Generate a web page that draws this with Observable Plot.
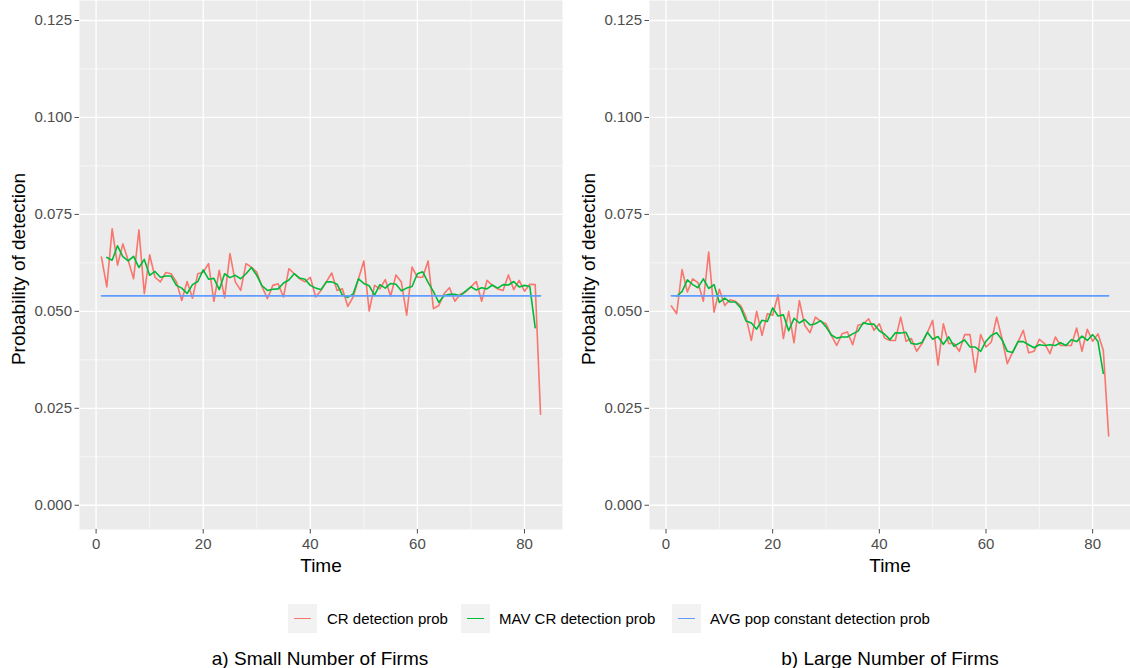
<!DOCTYPE html>
<html><head><meta charset="utf-8">
<script src="https://cdn.jsdelivr.net/npm/d3@7"></script>
<script src="https://cdn.jsdelivr.net/npm/@observablehq/plot@0.6"></script>
<style>
body{margin:0;background:#fff;font-family:"Liberation Sans",Arial,sans-serif;}
#wrap{position:relative;width:1130px;height:668px;overflow:hidden;background:#fff;}
.panel{position:absolute;top:0;}
.key{position:absolute;width:29px;height:29px;background:#F2F2F2;top:604px;}
.key i{position:absolute;left:6px;right:6px;top:13.5px;height:1.6px;}
.lt{position:absolute;font-size:15px;line-height:15px;top:611px;color:#000;white-space:nowrap;}
.cap{position:absolute;font-size:19px;line-height:19px;top:649px;white-space:nowrap;transform:translateX(-50%);color:#000;}
</style></head>
<body><div id="wrap"></div>
<script>
const time = [1,2,3,4,5,6,7,8,9,10,11,12,13,14,15,16,17,18,19,20,21,22,23,24,25,26,27,28,29,30,31,32,33,34,35,36,37,38,39,40,41,42,43,44,45,46,47,48,49,50,51,52,53,54,55,56,57,58,59,60,61,62,63,64,65,66,67,68,69,70,71,72,73,74,75,76,77,78,79,80,81,82,83];

const crSmall = [
.0640,.0563,.0713,.0619,.0674,.0631,.0584,.0710,.0546,.0646,
.0588,.0576,.0600,.0597,.0576,.0528,.0577,.0534,.0597,.0601,
.0623,.0526,.0606,.0535,.0649,.0576,.0554,.0623,.0614,.0601,
.0563,.0533,.0567,.0571,.0537,.0610,.0597,.0584,.0576,.0588,
.0537,.0554,.0576,.0599,.0554,.0558,.0513,.0537,.0584,.0630,
.0501,.0567,.0558,.0582,.0539,.0594,.0576,.0490,.0614,.0588,
.0588,.0630,.0507,.0515,.0546,.0561,.0526,.0544,.0550,.0563,
.0577,.0526,.0580,.0567,.0558,.0554,.0594,.0556,.0580,.0552,
.0570,.0569,.0235];

// moving average values, time 2..82
const mavSmall = [
.0639,.0632,.0669,.0641,.0630,.0642,.0613,.0634,.0593,
.0603,.0588,.0591,.0591,.0567,.0560,.0546,.0569,.0577,.0607,
.0583,.0585,.0556,.0597,.0587,.0593,.0584,.0597,.0613,.0593,
.0566,.0554,.0557,.0558,.0573,.0581,.0597,.0586,.0583,.0567,
.0560,.0556,.0576,.0576,.0570,.0542,.0536,.0545,.0584,.0572,
.0566,.0542,.0569,.0560,.0572,.0570,.0553,.0560,.0564,.0597,
.0602,.0575,.0551,.0523,.0541,.0544,.0544,.0540,.0552,.0563,
.0555,.0561,.0558,.0568,.0560,.0569,.0568,.0577,.0563,.0567,
.0564,.0458];

const crLarge = [
.0514,.0494,.0608,.0550,.0584,.0574,.0526,.0653,.0498,.0557,
.0515,.0530,.0526,.0515,.0485,.0425,.0500,.0438,.0494,.0490,
.0543,.0430,.0500,.0419,.0528,.0464,.0445,.0485,.0474,.0468,
.0438,.0412,.0442,.0447,.0414,.0464,.0468,.0481,.0451,.0468,
.0431,.0425,.0425,.0485,.0423,.0430,.0397,.0417,.0445,.0477,
.0361,.0468,.0417,.0417,.0397,.0440,.0440,.0343,.0440,.0408,
.0421,.0485,.0430,.0365,.0395,.0421,.0451,.0393,.0397,.0428,
.0417,.0391,.0434,.0412,.0412,.0412,.0457,.0397,.0454,.0423,
.0442,.0400,.0179];

const mavLarge = [
.0539,.0551,.0581,.0569,.0561,.0584,.0559,.0569,.0523,
.0534,.0524,.0524,.0509,.0475,.0470,.0454,.0477,.0474,.0509,
.0488,.0491,.0450,.0482,.0470,.0479,.0465,.0468,.0476,.0460,
.0439,.0431,.0434,.0434,.0442,.0449,.0471,.0467,.0467,.0450,
.0441,.0427,.0445,.0444,.0446,.0417,.0415,.0420,.0446,.0428,
.0435,.0415,.0434,.0410,.0418,.0426,.0408,.0408,.0397,.0423,
.0438,.0445,.0427,.0397,.0394,.0422,.0422,.0414,.0406,.0414,
.0412,.0414,.0412,.0419,.0412,.0427,.0422,.0436,.0425,.0440,
.0422,.0340];

const avgSmall = 0.054;
const avgLarge = 0.054;

const xTicks = [0, 20, 40, 60, 80];
const xMinor = [10, 30, 50, 70];
const yTicks = [0, 0.025, 0.05, 0.075, 0.1, 0.125];
const yMinor = [0.0125, 0.0375, 0.0625, 0.0875, 0.1125];
const seriesNames = ["CR detection prob", "MAV CR detection prob", "AVG pop constant detection prob"];
const seriesColors = ["#F8766D", "#00BA38", "#619CFF"];
const captions = ["a) Small Number of Firms", "b) Large Number of Firms"];
const xTitle = "Time";
const yTitle = "Probability of detection";

const wrap = document.getElementById("wrap");

function makePanel(cr, mav, avg, left, mL, mR) {
  const crData = time.map((t, i) => ({t, v: cr[i]}));
  const mavTimes = time.slice(1, 1 + mav.length);
  const mavData = mavTimes.map((t, i) => ({t, v: mav[i]}));
  const avgData = [{t: time[0], v: avg}, {t: time[time.length - 1], v: avg}];
  const chart = Plot.plot({
    width: 565, height: 585,
    marginLeft: mL, marginRight: mR, marginTop: 0, marginBottom: 56,
    style: {fontFamily: "Liberation Sans, Arial, sans-serif", background: "transparent", overflow: "visible"},
    x: {domain: [-3.1, 87.1]},
    y: {domain: [-0.00625, 0.13016]},
    marks: [
      Plot.frame({fill: "#EBEBEB", stroke: "none"}),
      Plot.ruleY(yMinor, {stroke: "white", strokeWidth: 0.6}),
      Plot.ruleX(xMinor, {stroke: "white", strokeWidth: 0.6}),
      Plot.ruleY(yTicks, {stroke: "white", strokeWidth: 1.3}),
      Plot.ruleX(xTicks, {stroke: "white", strokeWidth: 1.3}),
      Plot.line(crData, {x: "t", y: "v", stroke: seriesColors[0], strokeWidth: 1.6}),
      Plot.line(mavData, {x: "t", y: "v", stroke: seriesColors[1], strokeWidth: 1.6}),
      Plot.line(avgData, {x: "t", y: "v", stroke: seriesColors[2], strokeWidth: 1.6}),
      Plot.axisX({ticks: xTicks, tickSize: 4.5, tickPadding: 4, fontSize: 15, color: "#4D4D4D", label: null, tickFormat: d3.format("d")}),
      Plot.axisY({ticks: yTicks, tickSize: 4.5, tickPadding: 3, fontSize: 15, color: "#4D4D4D", label: null, tickFormat: d3.format(".3f")}),
      Plot.text([xTitle], {frameAnchor: "bottom", dy: 36, lineAnchor: "middle", textAnchor: "middle", fontSize: 19, fill: "black", text: d => d}),
      Plot.text([yTitle], {frameAnchor: "left", dx: -61, dy: 4, rotate: -90, lineAnchor: "middle", textAnchor: "middle", fontSize: 19, fill: "black", text: d => d})
    ]
  });
  const div = document.createElement("div");
  div.className = "panel";
  div.style.left = left + "px";
  div.appendChild(chart);
  wrap.appendChild(div);
}

makePanel(crSmall, mavSmall, avgSmall, 0, 79, 3);
makePanel(crLarge, mavLarge, avgLarge, 565, 84, 0);

// legend
const keyLefts = [288, 461, 672];
const textLefts = [327, 499, 710];
seriesNames.forEach((name, i) => {
  const k = document.createElement("div");
  k.className = "key";
  k.style.left = keyLefts[i] + "px";
  const ln = document.createElement("i");
  ln.style.background = seriesColors[i];
  k.appendChild(ln);
  wrap.appendChild(k);
  const t = document.createElement("div");
  t.className = "lt";
  t.style.left = textLefts[i] + "px";
  t.textContent = name;
  wrap.appendChild(t);
});

// captions
const capCenters = [320, 890];
captions.forEach((c, i) => {
  const d = document.createElement("div");
  d.className = "cap";
  d.style.left = capCenters[i] + "px";
  d.textContent = c;
  wrap.appendChild(d);
});
</script>
</body></html>
